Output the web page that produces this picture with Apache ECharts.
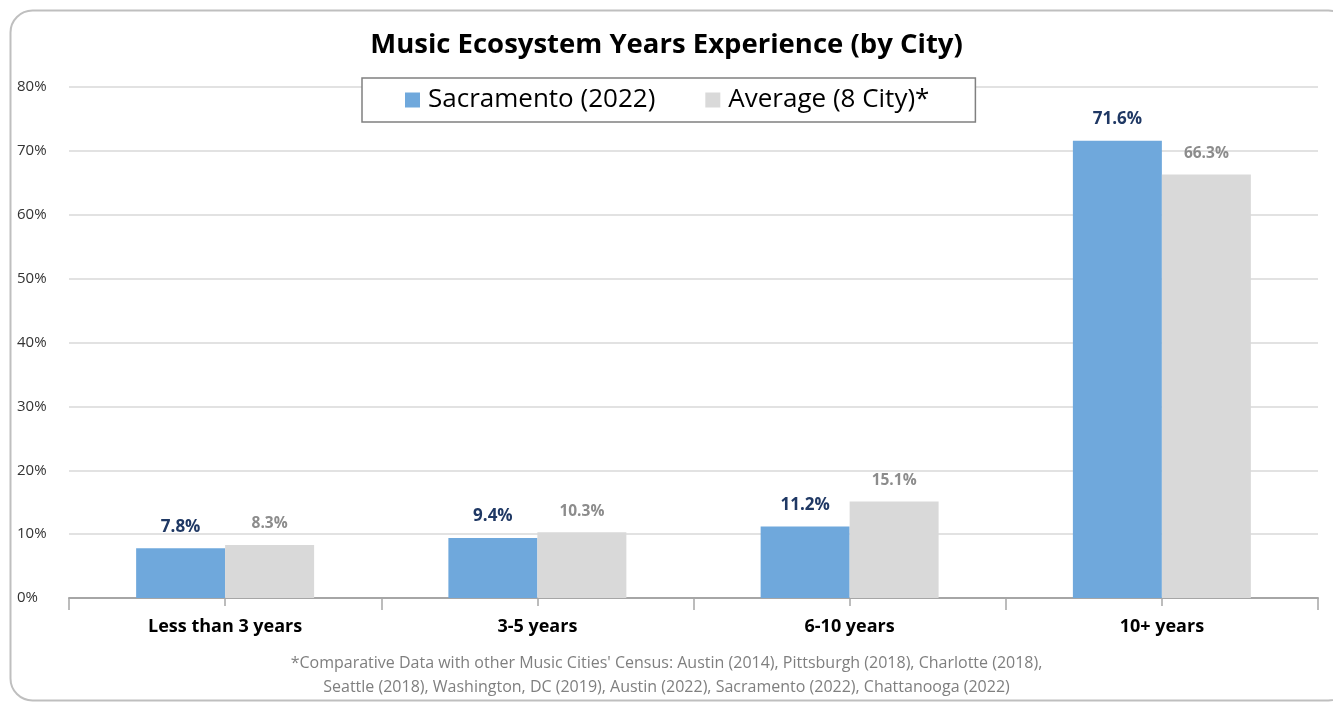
<!DOCTYPE html>
<html>
<head>
<meta charset="utf-8">
<script src="https://cdn.jsdelivr.net/npm/echarts@6/dist/echarts.min.js"></script>
<style>
html,body{margin:0;padding:0;background:#fff;}
#chart{width:1333px;height:702px;}
</style>
</head>
<body>
<div id="chart"></div>
<script>
const categories = ['Less than 3 years', '3-5 years', '6-10 years', '10+ years'];
const sacramento = [7.8, 9.4, 11.2, 71.6];
const average = [8.3, 10.3, 15.1, 66.3];
const seriesNames = ['Sacramento (2022)', 'Average (8 City)*'];
const yTicks = { min: 0, max: 80, interval: 10 };
const titleText = 'Music Ecosystem Years Experience (by City)';
const footnote = ["*Comparative Data with other Music Cities' Census: Austin (2014), Pittsburgh (2018), Charlotte (2018),",
                  "Seattle (2018), Washington, DC (2019), Austin (2022), Sacramento (2022), Chattanooga (2022)"];

const FONT = '"Open Sans", "Liberation Sans", sans-serif';
const chart = echarts.init(document.getElementById('chart'));
chart.setOption({
  animation: false,
  textStyle: { fontFamily: FONT },
  title: {
    text: titleText, left: 'center', top: 26,
    textStyle: { fontSize: 27.5, fontWeight: 'bold', color: '#000', fontFamily: FONT }
  },
  legend: {
    data: seriesNames, top: 78, left: 362,
    backgroundColor: '#fff', borderColor: '#808080', borderWidth: 1.5,
    padding: [9, 46, 9, 43], itemGap: 50,
    itemWidth: 15, itemHeight: 15, icon: 'rect',
    textStyle: { fontSize: 26, color: '#000', fontFamily: FONT, padding: [0, 0, 0, 3] }
  },
  grid: { left: 69, right: 15, top: 87, bottom: 104, containLabel: false },
  xAxis: [{
    type: 'category', data: categories,
    axisLine: { lineStyle: { color: '#a6a6a6', width: 2 } },
    axisTick: { show: true, length: 12, lineStyle: { color: '#a6a6a6', width: 1.5 } },
    axisLabel: { fontSize: 18, fontWeight: 'bold', color: '#000', margin: 20, fontFamily: FONT }
  }, {
    type: 'category', data: categories, position: 'bottom',
    axisLine: { show: false },
    axisTick: { show: true, alignWithLabel: true, length: 8, lineStyle: { color: '#a6a6a6', width: 1.5 } },
    axisLabel: { show: false }
  }],
  yAxis: {
    type: 'value', min: yTicks.min, max: yTicks.max, interval: yTicks.interval,
    axisLine: { show: false }, axisTick: { show: false },
    splitLine: { lineStyle: { color: '#d9d9d9', width: 1.5 } },
    axisLabel: { formatter: '{value}%', fontSize: 15, color: '#333', align: 'left', margin: 52, fontFamily: FONT }
  },
  series: [{
    name: seriesNames[0], type: 'bar', data: sacramento, xAxisIndex: 0,
    barWidth: '28.5%', barGap: '0%',
    itemStyle: { color: '#6fa8dc' },
    label: { show: true, position: 'top', distance: 13, formatter: '{c}%', fontSize: 17, fontWeight: 'bold', color: '#1f3864', fontFamily: FONT }
  }, {
    name: seriesNames[1], type: 'bar', data: average, xAxisIndex: 0,
    barWidth: '28.5%', barGap: '0%',
    itemStyle: { color: '#d9d9d9' },
    label: { show: true, position: 'top', distance: 13, formatter: '{c}%', fontSize: 15.5, fontWeight: 'bold', color: '#8c8c8c', fontFamily: FONT }
  }],
  graphic: [{
    type: 'rect', left: 8, top: 8, z: -10, silent: true,
    shape: { width: 1340, height: 690, r: 22 },
    style: { fill: 'none', stroke: '#bfbfbf', lineWidth: 2 }
  }, {
    type: 'text', left: 'center', top: 651,
    style: { text: footnote.join('\n'), fill: '#7f7f7f', font: '16px ' + FONT, lineHeight: 24, textAlign: 'center' }
  }]
});
</script>
</body>
</html>
